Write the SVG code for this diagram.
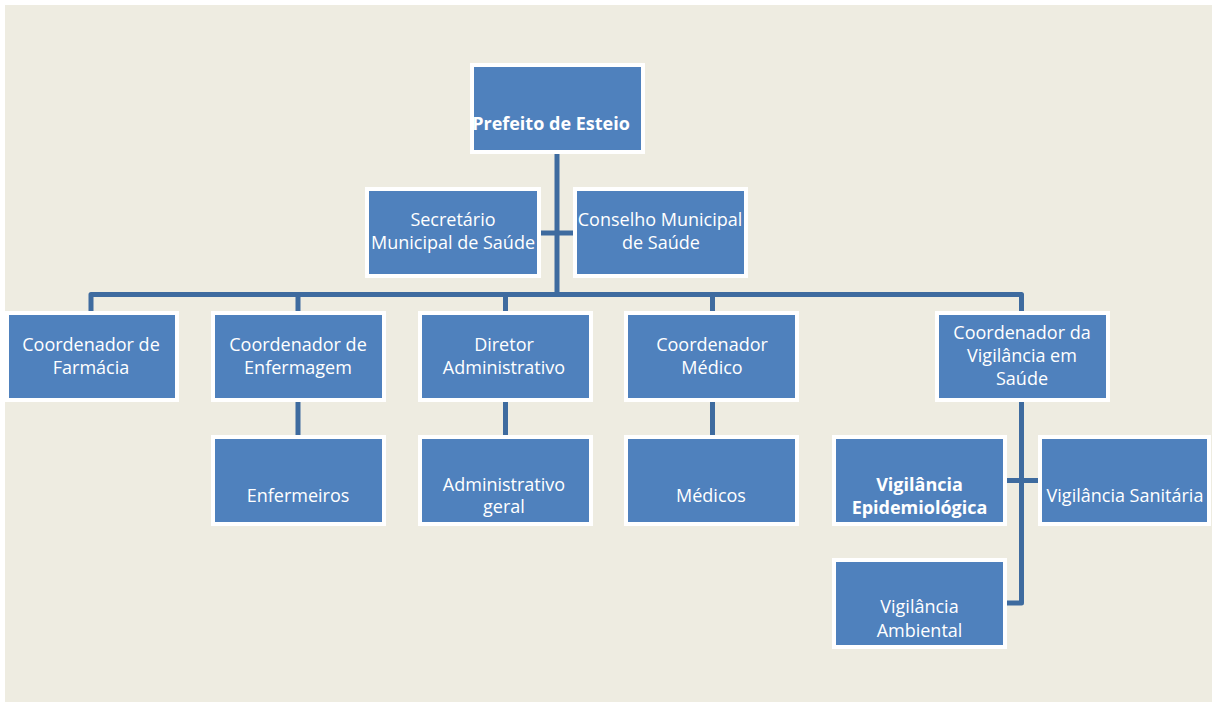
<svg xmlns="http://www.w3.org/2000/svg" width="1212" height="702" viewBox="0 0 1212 702">
<style>
.bg{fill:#EEECE1}
.box{fill:#4F81BD;stroke:#FFFFFF;stroke-width:4}
.t{font-family:"Open Sans","Liberation Sans",sans-serif;font-size:18px;fill:#FFFFFF;text-anchor:middle}
.b{font-weight:bold}
.c{fill:none;stroke:#3E6B9F;stroke-width:5;stroke-linejoin:round}
</style>
<rect width="1212" height="702" fill="#FFFFFF"/>
<rect class="bg" x="5" y="5" width="1207" height="697"/>
<g id="connectors">
<path class="c" d="M557 154 V294.5"/>
<path class="c" d="M541 233 H573"/>
<path class="c" d="M91 311 V294.5 H1021.5 V311"/>
<path class="c" d="M298 294.5 V311"/>
<path class="c" d="M505.5 294.5 V311"/>
<path class="c" d="M712.5 294.5 V311"/>
<path class="c" d="M298 402 V435"/>
<path class="c" d="M505.5 402 V435"/>
<path class="c" d="M712.5 402 V435"/>
<path class="c" d="M1021.5 402 V603 H1007"/>
<path class="c" d="M1007 480.5 H1038"/>
</g>
<g id="prefeito"><rect class="box" x="472" y="65" width="171" height="87"/><text class="t b" x="551" y="130">Prefeito de Esteio</text></g>
<g id="secretario"><rect class="box" x="367" y="189" width="172" height="87"/><text class="t" x="453" y="226">Secretário</text><text class="t" x="453" y="249">Municipal de Saúde</text></g>
<g id="conselho"><rect class="box" x="575" y="189" width="171" height="87"/><text class="t" x="660" y="226">Conselho Municipal</text><text class="t" x="661" y="249">de Saúde</text></g>
<g id="farmacia"><rect class="box" x="7" y="313" width="170" height="87"/><text class="t" x="91" y="351">Coordenador de</text><text class="t" x="91" y="374">Farmácia</text></g>
<g id="enfermagem"><rect class="box" x="213" y="313" width="171" height="87"/><text class="t" x="298" y="351">Coordenador de</text><text class="t" x="298" y="374">Enfermagem</text></g>
<g id="diretor"><rect class="box" x="420" y="313" width="171" height="87"/><text class="t" x="504" y="351">Diretor</text><text class="t" x="504" y="374">Administrativo</text></g>
<g id="medico"><rect class="box" x="626" y="313" width="171" height="87"/><text class="t" x="712" y="351">Coordenador</text><text class="t" x="712" y="374">Médico</text></g>
<g id="vigilancia"><rect class="box" x="937" y="313" width="171" height="87"/><text class="t" x="1022" y="339">Coordenador da</text><text class="t" x="1022" y="362">Vigilância em</text><text class="t" x="1022" y="385">Saúde</text></g>
<g id="enfermeiros"><rect class="box" x="213" y="437" width="171" height="87"/><text class="t" x="298" y="502">Enfermeiros</text></g>
<g id="admgeral"><rect class="box" x="420" y="437" width="171" height="87"/><text class="t" x="504" y="491">Administrativo</text><text class="t" x="504" y="513">geral</text></g>
<g id="medicos"><rect class="box" x="626" y="437" width="171" height="87"/><text class="t" x="711" y="502">Médicos</text></g>
<g id="epidemiologica"><rect class="box" x="834" y="437" width="171" height="87"/><text class="t b" x="919.5" y="491">Vigilância</text><text class="t b" x="919.5" y="514">Epidemiológica</text></g>
<g id="sanitaria"><rect class="box" x="1040" y="437" width="169" height="87"/><text class="t" x="1125" y="502">Vigilância Sanitária</text></g>
<g id="ambiental"><rect class="box" x="834" y="560" width="171" height="87"/><text class="t" x="919.5" y="613">Vigilância</text><text class="t" x="919.5" y="637">Ambiental</text></g>
</svg>
